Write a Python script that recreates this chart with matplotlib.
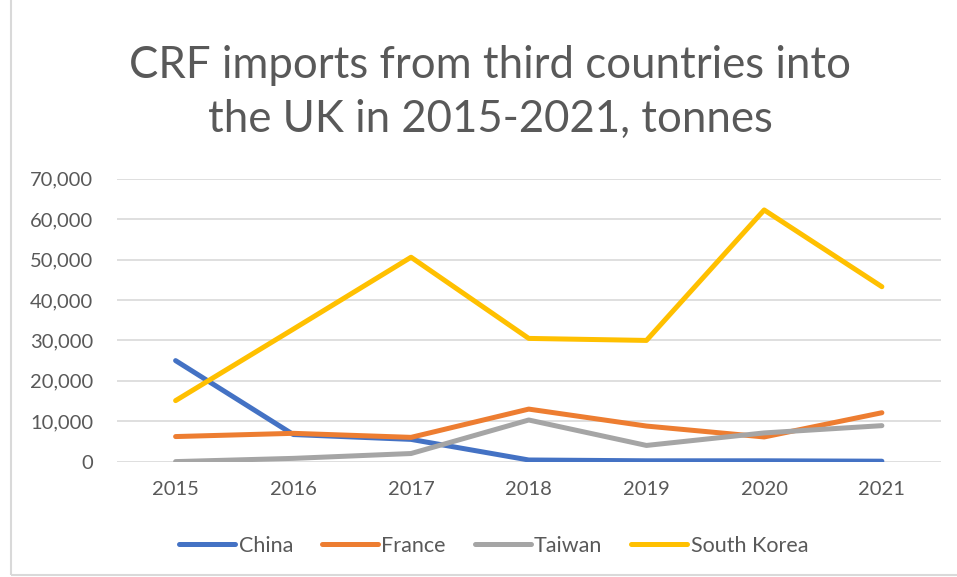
import numpy as np
import matplotlib
matplotlib.use('Agg')
import matplotlib.pyplot as plt
from matplotlib.ticker import FuncFormatter
from matplotlib.patches import Rectangle

years = ['2015', '2016', '2017', '2018', '2019', '2020', '2021']
china = [25000, 6700, 5500, 400, 200, 200, 100]
france = [6200, 7000, 6000, 13000, 8800, 6100, 12100]
taiwan = [0, 800, 2000, 10300, 4000, 7100, 8900]
south_korea = [15100, 32800, 50600, 30500, 30000, 62300, 43300]

series = [('China', china, '#4472C4'),
          ('France', france, '#ED7D31'),
          ('Taiwan', taiwan, '#A5A5A5'),
          ('South Korea', south_korea, '#FFC000')]

plt.rcParams['font.family'] = ['Lato', 'DejaVu Sans']
txt = '#595959'

fig = plt.figure(figsize=(9.57, 5.77), dpi=100)
ax = fig.add_axes([0.122, 0.2, 0.861, 0.49])
fig.patches.append(Rectangle((0.011, 0.004), 1.2, 1.2, transform=fig.transFigure,
                             fill=False, edgecolor='#D9D9D9', lw=1.5))

x = np.arange(len(years))
for name, vals, col in series:
    ax.plot(x, vals, color=col, lw=3.6, label=name, solid_capstyle='round',
            solid_joinstyle='round')

ax.set_xlim(-0.5, 6.5)
ax.set_ylim(0, 70000)
ax.set_yticks(np.arange(0, 70001, 10000))
ax.yaxis.set_major_formatter(FuncFormatter(lambda v, p: f'{int(v):,}'))
ax.set_xticks(x)
ax.set_xticklabels(years)
ax.grid(axis='y', color='#D9D9D9', lw=1.2)
ax.set_axisbelow(True)
for s in ax.spines.values():
    s.set_visible(False)
ax.tick_params(length=0, labelsize=14.5, colors=txt)
ax.tick_params(axis='y', pad=17)
ax.tick_params(axis='x', pad=14)

fig.text(0.512, 0.84, 'CRF imports from third countries into\nthe UK in 2015-2021, tonnes',
         ha='center', va='center', fontsize=31.5, color=txt, linespacing=1.4)

fig.legend(loc='center', bbox_to_anchor=(0.516, 0.054), ncol=4, frameon=False,
           fontsize=15.5, labelcolor=txt, handlelength=2.6, handletextpad=0.15,
           columnspacing=1.35)

fig.savefig('out.png', dpi=100)
